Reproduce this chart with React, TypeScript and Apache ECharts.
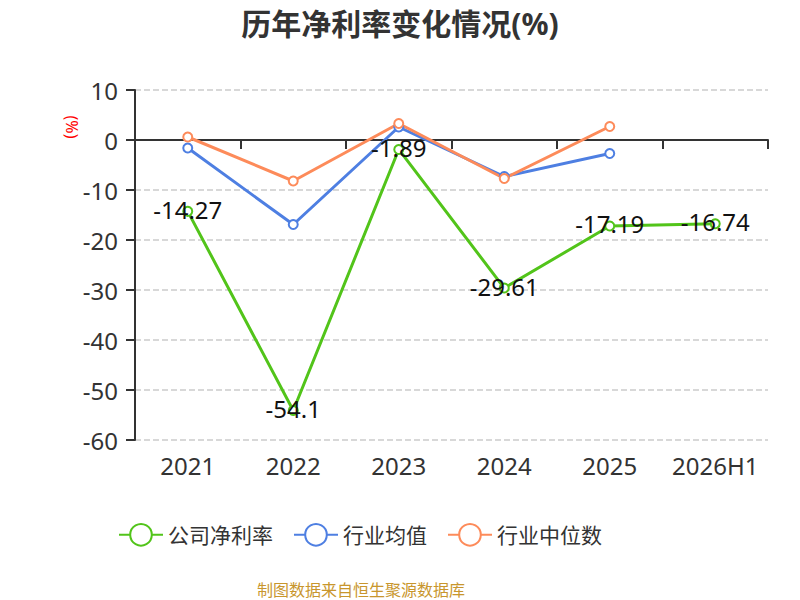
import React, { useEffect, useRef } from "react";
import * as echarts from "echarts";

const categories = ["2021", "2022", "2023", "2024", "2025", "2026H1"];
const companyNetMargin = [-14.27, -54.1, -1.89, -29.61, -17.19, -16.74];
const industryMean = [-1.6, -16.9, 2.6, -7.3, -2.7, null];
const industryMedian = [0.6, -8.2, 3.3, -7.7, 2.7, null];
const seriesNames = ["公司净利率", "行业均值", "行业中位数"];
const titleText = "历年净利率变化情况(%)";
const sourceText = "制图数据来自恒生聚源数据库";
const unitText = "(%)";

const FONT = "'Noto Sans', 'Noto Sans CJK SC', sans-serif";

export default function App() {
  const ref = useRef<HTMLDivElement>(null);
  useEffect(() => {
    document.body.style.margin = "0";
    const chart = echarts.init(ref.current!, null, { renderer: "svg" });
    const mk = (name: string, data: any[], color: string, label: boolean) => ({
      name,
      type: "line",
      data,
      xAxisIndex: 0,
      symbol: "emptyCircle",
      symbolSize: 9,
      lineStyle: { color, width: 3 },
      itemStyle: { color, borderWidth: 2 },
      label: label
        ? { show: true, position: "inside", offset: [0, -2], fontSize: 24, color: "#111", fontFamily: FONT }
        : { show: false },
      z: label ? 3 : 2,
    });
    chart.setOption({
      animation: false,
      textStyle: { fontFamily: FONT },
      title: {
        text: titleText,
        left: "center",
        top: 3,
        textStyle: { fontSize: 30, fontWeight: "bold", color: "#333", fontFamily: FONT },
      },
      grid: { left: 135, right: 32, top: 90, bottom: 160, containLabel: false },
      legend: {
        data: seriesNames,
        left: 118,
        top: 523,
        padding: 0,
        itemWidth: 44,
        itemHeight: 27,
        itemGap: 20,
        textStyle: { fontSize: 21, color: "#333", fontFamily: FONT },
      },
      xAxis: [
        {
          type: "category",
          data: categories,
          position: "bottom",
          axisLine: { show: false, onZero: false },
          axisTick: { show: false },
          axisLabel: { interval: 0, hideOverlap: false, fontSize: 24, color: "#333", margin: 13 },
        },
        {
          type: "category",
          data: categories,
          position: "top",
          axisLine: { show: true, onZero: true, onZeroAxisIndex: 0, lineStyle: { color: "#333", width: 2 } },
          axisTick: { show: true, inside: true, length: 9, lineStyle: { color: "#333", width: 2 } },
          axisLabel: { show: false },
          splitLine: { show: false },
        },
      ],
      yAxis: {
        type: "value",
        min: -60,
        max: 10,
        interval: 10,
        axisLine: { show: true, lineStyle: { color: "#333", width: 2 } },
        axisTick: { show: true, length: 9, lineStyle: { color: "#333", width: 2 } },
        axisLabel: { fontSize: 24, color: "#333", margin: 17 },
        splitLine: { lineStyle: { type: "dashed", color: "#ccc", width: 1.5 } },
      },
      series: [
        mk(seriesNames[0], companyNetMargin, "#52c41a", true),
        mk(seriesNames[1], industryMean, "#4e7fe2", false),
        mk(seriesNames[2], industryMedian, "#fd8b5a", false),
      ],
      graphic: [
        {
          type: "text",
          x: 72,
          y: 127,
          rotation: -Math.PI / 2,
          style: {
            text: unitText,
            fontSize: 16,
            fill: "#ff0000",
            fontFamily: FONT,
            textAlign: "center",
            textVerticalAlign: "middle",
          },
        },
        {
          type: "text",
          x: 361,
          y: 590,
          style: {
            text: sourceText,
            fontSize: 16,
            fill: "#c8962d",
            fontFamily: FONT,
            textAlign: "center",
            textVerticalAlign: "middle",
          },
        },
      ],
    });
    return () => chart.dispose();
  }, []);
  return <div ref={ref} style={{ width: 800, height: 600 }} />;
}
